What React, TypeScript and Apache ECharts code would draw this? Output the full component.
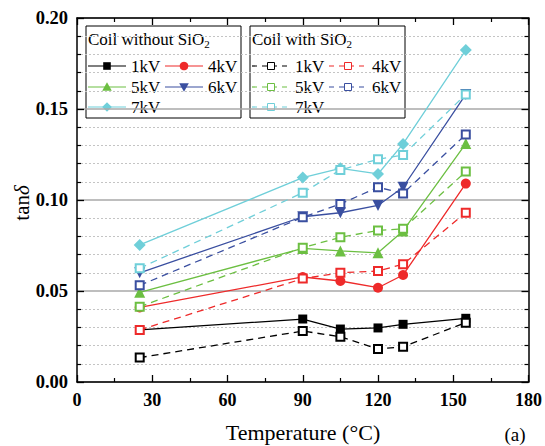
import React, { useEffect, useRef } from "react";
import * as echarts from "echarts";

// ---- data ----
const temperatures = [25, 90, 105, 120, 130, 155];
const voltageLabels = ["1kV", "4kV", "5kV", "6kV", "7kV"];

const without_1kV = [0.0286, 0.0346, 0.0291, 0.0297, 0.0317, 0.035];
const without_4kV = [0.041, 0.0577, 0.0555, 0.0518, 0.0588, 0.109];
const without_5kV = [0.0493, 0.0734, 0.072, 0.071, 0.083, 0.131];
const without_6kV = [0.06, 0.0908, 0.093, 0.097, 0.107, 0.158];
const without_7kV = [0.0753, 0.1123, 0.1174, 0.1143, 0.1308, 0.1824];

const with_1kV = [0.0134, 0.028, 0.0249, 0.0181, 0.0194, 0.0326];
const with_4kV = [0.0286, 0.0568, 0.06, 0.061, 0.0647, 0.093];
const with_5kV = [0.0414, 0.0738, 0.0795, 0.0833, 0.0842, 0.1156];
const with_6kV = [0.0531, 0.0905, 0.0978, 0.107, 0.1036, 0.136];
const with_7kV = [0.0625, 0.104, 0.1165, 0.1224, 0.1247, 0.158];

const xTicks = [0, 30, 60, 90, 120, 150, 180];
const yTicks = [0, 0.05, 0.1, 0.15, 0.2];

const withoutSeries = [without_1kV, without_4kV, without_5kV, without_6kV, without_7kV];
const withSeries = [with_1kV, with_4kV, with_5kV, with_6kV, with_7kV];

// ---- styles ----
const colors = ["#000000", "#ee2a2a", "#6cbf42", "#3a4fa0", "#6fcfd9"];
const symbols = ["rect", "circle", "triangle", "triangle", "diamond"];
const symbolRotates = [0, 0, 0, 180, 0];
const symbolSizes = [9, 10, 11, 11, 12];
const FONT = "Liberation Serif";

function pair(data: number[]) {
  return temperatures.map((t, i) => [t, data[i]]);
}

function legendMarker(kind: number, cx: number, cy: number, color: string, hollow: boolean) {
  if (hollow) {
    return {
      type: "rect",
      shape: { x: cx - 3.5, y: cy - 3.5, width: 7, height: 7 },
      style: { fill: "#fff", stroke: color, lineWidth: 1 },
    };
  }
  const s = 3.8;
  if (kind === 0)
    return { type: "rect", shape: { x: cx - s, y: cy - s, width: 2 * s, height: 2 * s }, style: { fill: color } };
  if (kind === 1) return { type: "circle", shape: { cx, cy, r: s + 0.5 }, style: { fill: color } };
  if (kind === 2)
    return {
      type: "polygon",
      shape: { points: [[cx, cy - s - 1], [cx - s - 1, cy + s], [cx + s + 1, cy + s]] },
      style: { fill: color },
    };
  if (kind === 3)
    return {
      type: "polygon",
      shape: { points: [[cx, cy + s + 1], [cx - s - 1, cy - s], [cx + s + 1, cy - s]] },
      style: { fill: color },
    };
  return {
    type: "polygon",
    shape: { points: [[cx, cy - s - 1], [cx + s + 1, cy], [cx, cy + s + 1], [cx - s - 1, cy]] },
    style: { fill: color },
  };
}

function legendBox(x0: number, title: string, hollow: boolean) {
  const y0 = 26;
  const children: any[] = [];
  children.push({
    type: "rect",
    shape: { x: x0, y: y0, width: 155, height: 92 },
    style: { fill: "#fff", stroke: "#000", lineWidth: 1 },
  });
  children.push({
    type: "text",
    style: {
      x: x0 + 2,
      y: 31,
      text: "{m|" + title + "}{s|2}",
      fontFamily: FONT,
      fontSize: 17,
      rich: {
        m: { fontSize: 17, fontFamily: FONT, lineHeight: 18, verticalAlign: "top", padding: [0, 0, 4, 0], fill: "#000" },
        s: { fontSize: 11, fontFamily: FONT, lineHeight: 11, verticalAlign: "bottom", fill: "#000" },
      },
      align: "left",
      verticalAlign: "top",
    },
  });
  const rows = [66, 66, 87, 87, 107];
  const cols = [0, 1, 0, 1, 0];
  voltageLabels.forEach((lab, i) => {
    const lx1 = x0 + (cols[i] === 0 ? 2 : 79);
    const lx2 = lx1 + 38;
    const y = rows[i];
    const color = colors[i];
    children.push({
      type: "line",
      shape: { x1: lx1, y1: y, x2: lx2, y2: y },
      style: { stroke: color, lineWidth: 1.2, lineDash: hollow ? [5, 5] : null },
    });
    children.push(legendMarker(i, (lx1 + lx2) / 2, y, color, hollow));
    children.push({
      type: "text",
      style: {
        x: lx2 + 5,
        y: y,
        text: lab,
        fontFamily: FONT,
        fontSize: 17,
        fill: "#000",
        align: "left",
        verticalAlign: "middle",
      },
    });
  });
  return { type: "group", children };
}

export default function App() {
  const ref = useRef<HTMLDivElement>(null);
  useEffect(() => {
    if (!ref.current) return;
    const chart = echarts.init(ref.current, null, { renderer: "svg" });

    const series: any[] = [];
    withoutSeries.forEach((d, i) => {
      series.push({
        name: "without " + voltageLabels[i],
        type: "line",
        data: pair(d),
        symbol: symbols[i],
        symbolRotate: symbolRotates[i],
        symbolSize: symbolSizes[i],
        showSymbol: true,
        lineStyle: { color: colors[i], width: 1.3 },
        itemStyle: { color: colors[i] },
        z: 3,
      });
    });
    withSeries.forEach((d, i) => {
      series.push({
        name: "with " + voltageLabels[i],
        type: "line",
        data: pair(d),
        symbol: "emptyRect",
        symbolSize: 8,
        lineStyle: { color: colors[i], width: 1.3, type: [7, 5] },
        itemStyle: { color: colors[i], borderWidth: 1.2 },
        z: 4,
      });
    });

    const axisCommonX = {
      type: "value",
      min: xTicks[0],
      max: xTicks[xTicks.length - 1],
      interval: xTicks[1] - xTicks[0],
      axisLine: { show: true, onZero: false, lineStyle: { color: "#000", width: 1.5 } },
      axisTick: { show: true, inside: true, length: 7, lineStyle: { color: "#000", width: 1.3 } },
      minorTick: { show: true, splitNumber: 2, length: 4, lineStyle: { color: "#000", width: 1.2 } },
      splitLine: { show: false },
    };
    const axisCommonY = {
      type: "value",
      min: yTicks[0],
      max: yTicks[yTicks.length - 1],
      interval: yTicks[1] - yTicks[0],
      axisLine: { show: true, onZero: false, lineStyle: { color: "#000", width: 1.5 } },
      axisTick: { show: true, inside: true, length: 7, lineStyle: { color: "#000", width: 1.3 } },
      minorTick: { show: true, splitNumber: 5, length: 4, lineStyle: { color: "#000", width: 1.2 } },
    };

    chart.setOption({
      animation: false,
      backgroundColor: "#fff",
      grid: { left: 77, right: 15, top: 18, bottom: 64, containLabel: false },
      xAxis: [
        {
          ...axisCommonX,
          position: "bottom",
          axisLabel: {
            show: true,
            margin: 9,
            fontFamily: FONT,
            fontWeight: "bold",
            fontSize: 18,
            color: "#000",
          },
        },
        { ...axisCommonX, position: "top", axisLabel: { show: false } },
      ],
      yAxis: [
        {
          ...axisCommonY,
          position: "left",
          axisLabel: {
            show: true,
            margin: 9,
            fontFamily: FONT,
            fontWeight: "bold",
            fontSize: 18.5,
            color: "#000",
            formatter: (v: number) => v.toFixed(2),
          },
          splitLine: { show: true, lineStyle: { color: "#a8a8a8", width: 1.5 } },
          minorSplitLine: { show: true, lineStyle: { color: "#c4c4c4", width: 1, type: [2, 2] } },
        },
        {
          ...axisCommonY,
          position: "right",
          axisLabel: { show: false },
          splitLine: { show: false },
        },
      ],
      series,
      graphic: [
        legendBox(86, "Coil without SiO", false),
        legendBox(250, "Coil with SiO", true),
        {
          type: "text",
          x: 22,
          y: 203,
          rotation: Math.PI / 2,
          style: {
            x: 0,
            y: 0,
            text: "{n|tan}{i|δ}",
            fontFamily: FONT,
            fontSize: 21,
            rich: {
              n: { fontSize: 21, fontFamily: FONT, fill: "#000" },
              i: { fontSize: 21, fontFamily: FONT, fontStyle: "italic", fill: "#000" },
            },
            align: "center",
            verticalAlign: "middle",
          },
        },
        {
          type: "text",
          style: {
            x: 303,
            y: 432,
            text: "Temperature (°C)",
            fontFamily: FONT,
            fontSize: 22,
            fill: "#000",
            align: "center",
            verticalAlign: "middle",
          },
        },
        {
          type: "text",
          style: {
            x: 515,
            y: 434,
            text: "(a)",
            fontFamily: FONT,
            fontSize: 19,
            fill: "#000",
            align: "center",
            verticalAlign: "middle",
          },
        },
      ],
    });
    return () => chart.dispose();
  }, []);
  return (
    <div
      ref={ref}
      style={{ position: "absolute", left: 0, top: 0, width: 545, height: 446 }}
    />
  );
}
